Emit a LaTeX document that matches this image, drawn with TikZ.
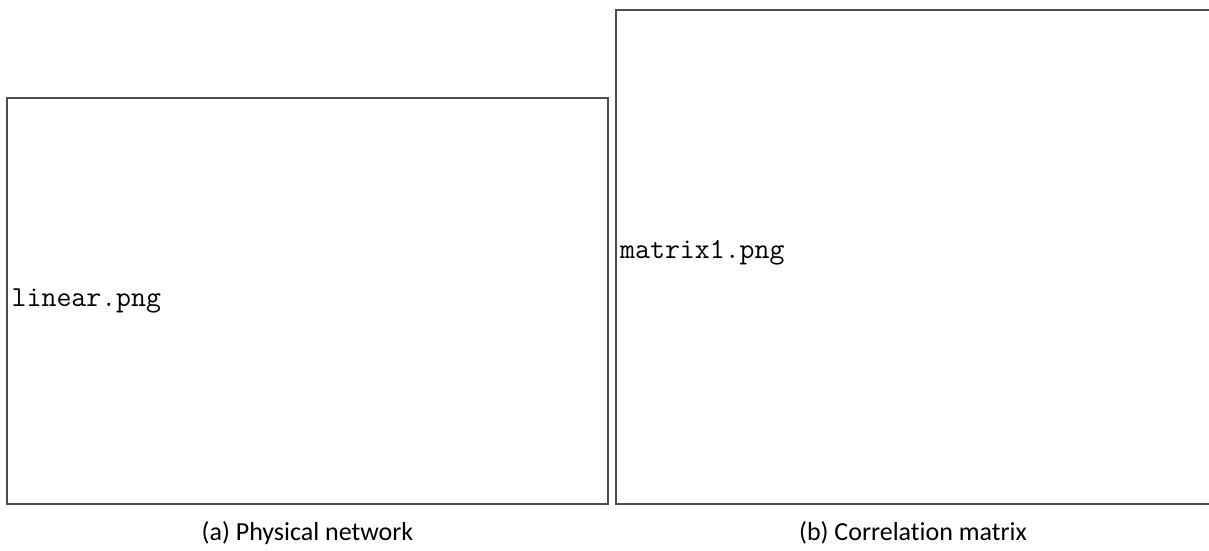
\documentclass[tikz,border=0pt]{standalone}
\usepackage{fontspec}
\setmainfont{Carlito}[Ligatures={NoCommon}]
\begin{document}
\begin{tikzpicture}[x=1pt,y=-1pt,
  panel/.style={draw=black!70, line width=1.2pt, inner sep=0pt, outer sep=0pt},
  fname/.style={font=\fontsize{29}{34}\selectfont\ttfamily, anchor=base west, inner sep=0pt},
  captext/.style={font=\fontsize{26}{31}\selectfont, anchor=base, inner sep=0pt}]
\fill[white] (0,0) rectangle (1209,550);
\useasboundingbox (0,0) rectangle (1209,550);
\node[panel, minimum width=601pt, minimum height=406pt] (boxa) at (307.5,301) {};
\node[panel, minimum width=594pt, minimum height=494pt] (boxb) at (913,257) {};
\node[fname] (ta) at (11.5,306) {linear.png};
\node[fname] (tb) at (620,258) {matrix1.png};
\node[captext] (ca) at (307.5,540) {(a) Physical network};
\node[captext] (cb) at (913,540) {(b) Correlation matrix};
\end{tikzpicture}
\end{document}
